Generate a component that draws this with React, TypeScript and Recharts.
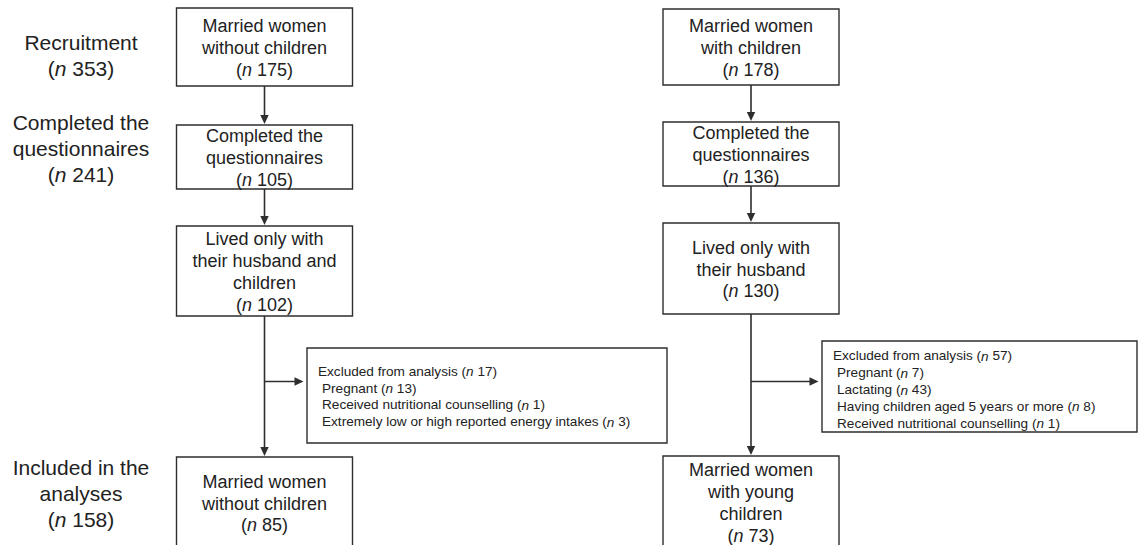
import React from 'react';
import { ComposedChart, XAxis, YAxis, ReferenceArea, ReferenceLine, Scatter } from 'recharts';

// flow steps
const stages = ['Recruitment', 'Completed the\nquestionnaires', 'Included in the\nanalyses'];
const stageCounts = [353, 241, 158];

const withoutChildrenSteps = [
  'Married women\nwithout children',
  'Completed the\nquestionnaires',
  'Lived only with\ntheir husband and\nchildren',
  'Married women\nwithout children',
];
const withoutChildrenCounts = [175, 105, 102, 85];

const withChildrenSteps = [
  'Married women\nwith children',
  'Completed the\nquestionnaires',
  'Lived only with\ntheir husband',
  'Married women\nwith young\nchildren',
];
const withChildrenCounts = [178, 136, 130, 73];

const excludedTitle = 'Excluded from analysis';
const excludedWithoutTotal = 17;
const excludedWithoutReasons = ['Pregnant', 'Received nutritional counselling', 'Extremely low or high reported energy intakes'];
const excludedWithoutCounts = [13, 1, 3];
const excludedWithTotal = 57;
const excludedWithReasons = ['Pregnant', 'Lactating', 'Having children aged 5 years or more', 'Received nutritional counselling'];
const excludedWithCounts = [7, 43, 8, 1];

// layout (pixel space of the figure)
const W = 1140;
const H = 545;
const colCenters = [264.5, 751];
const boxHalf = 88;
const rowTops = [[8, 125, 226, 457], [9, 122, 223, 456]];
const rowBottoms = [[86, 189, 316, 548], [85, 186, 314, 548]];
const stageX = 81;
const stageY = [55, 148, 493];
const exclBoxes = [
  { x1: 307, x2: 667, y1: 348, y2: 443, textX: 318, textY: 396.5 },
  { x1: 822, x2: 1137, y1: 341, y2: 432, textX: 833, textY: 389.5 },
];
const branchY = 381.5;

const INK = '#222';
const LINE = '#2e2e2e';
const FONT = '"Liberation Sans", Arial, Helvetica, sans-serif';

const withN = (label: string, n: number) => `${label}\n(n ${n})`;

const renderLine = (line: string) => {
  const m = line.match(/^(.*)\(n (\d+)\)(.*)$/);
  if (!m) return line;
  return (
    <>
      {m[1]}(<tspan fontStyle="italic">n</tspan>
      {` ${m[2]})`}
      {m[3]}
    </>
  );
};

const TextBlock = (props: any) => {
  const { cx, cy, payload } = props;
  const lines: string[] = payload.lines;
  const lh = payload.lh;
  const anchor = payload.anchor || 'middle';
  const start = cy - ((lines.length - 1) * lh) / 2;
  return (
    <g>
      {lines.map((l, i) => (
        <text
          key={i}
          x={cx + (payload.indent && i > 0 ? payload.indent : 0)}
          y={start + i * lh}
          textAnchor={anchor}
          dominantBaseline="central"
          fontSize={payload.size}
          fontFamily={FONT}
          fill={INK}
        >
          {renderLine(l)}
        </text>
      ))}
    </g>
  );
};

const ArrowHead = (props: any) => {
  const { cx, cy, payload } = props;
  const L = 9;
  const hw = 4.2;
  const pts =
    payload.dir === 'down'
      ? `${cx - hw},${cy - L} ${cx + hw},${cy - L} ${cx},${cy}`
      : `${cx - L},${cy - hw} ${cx - L},${cy + hw} ${cx},${cy}`;
  return <polygon points={pts} fill={LINE} stroke="none" />;
};

const columns = [
  { steps: withoutChildrenSteps, counts: withoutChildrenCounts },
  { steps: withChildrenSteps, counts: withChildrenCounts },
];

const boxes: { x1: number; x2: number; y1: number; y2: number }[] = [];
const segments: { x1: number; y1: number; x2: number; y2: number }[] = [];
const arrows: { x: number; y: number; dir: string }[] = [];
const texts: any[] = [];

columns.forEach((col, c) => {
  const cx = colCenters[c];
  col.steps.forEach((s, r) => {
    const y1 = rowTops[c][r];
    const y2 = rowBottoms[c][r];
    boxes.push({ x1: cx - boxHalf, x2: cx + boxHalf, y1, y2 });
    texts.push({ x: cx, y: (y1 + y2) / 2 + 1, lines: withN(s, col.counts[r]).split('\n'), size: 18, lh: 21.7 });
    if (r > 0) {
      const top = rowBottoms[c][r - 1];
      segments.push({ x1: cx, y1: top, x2: cx, y2: y1 - 7 });
      arrows.push({ x: cx, y: y1 - 1, dir: 'down' });
    }
  });
  const e = exclBoxes[c];
  boxes.push({ x1: e.x1, x2: e.x2, y1: e.y1, y2: e.y2 });
  segments.push({ x1: cx, y1: branchY, x2: e.x1 - 10, y2: branchY });
  arrows.push({ x: e.x1 - 3.5, y: branchY, dir: 'right' });
  const total = c === 0 ? excludedWithoutTotal : excludedWithTotal;
  const reasons = c === 0 ? excludedWithoutReasons : excludedWithReasons;
  const counts = c === 0 ? excludedWithoutCounts : excludedWithCounts;
  texts.push({
    x: e.textX,
    y: e.textY,
    lines: [`${excludedTitle} (n ${total})`, ...reasons.map((r, i) => `${r} (n ${counts[i]})`)],
    size: 13.6,
    lh: 16.9,
    anchor: 'start',
    indent: 4,
  });
});

stages.forEach((s, i) => {
  texts.push({ x: stageX, y: stageY[i], lines: withN(s, stageCounts[i]).split('\n'), size: 21, lh: 26 });
});

export default function App() {
  return (
    <div style={{ width: W, height: H, background: '#fff' }}>
      <style>{'body{margin:0}'}</style>
      <ComposedChart width={W} height={H} margin={{ top: 0, right: 0, bottom: 0, left: 0 }}>
        <XAxis type="number" dataKey="x" domain={[0, W]} allowDataOverflow hide />
        <YAxis type="number" dataKey="y" domain={[0, H]} allowDataOverflow reversed hide />
        {boxes.map((b, i) => (
          <ReferenceArea
            key={`b${i}`}
            x1={b.x1}
            x2={b.x2}
            y1={b.y1}
            y2={b.y2}
            fill="none"
            fillOpacity={0}
            stroke={LINE}
            strokeWidth={1.4}
            ifOverflow="visible"
          />
        ))}
        {segments.map((s, i) => (
          <ReferenceLine
            key={`s${i}`}
            segment={[
              { x: s.x1, y: s.y1 },
              { x: s.x2, y: s.y2 },
            ]}
            stroke={LINE}
            strokeWidth={1.6}
            ifOverflow="visible"
          />
        ))}
        <Scatter data={arrows} dataKey="y" shape={ArrowHead} isAnimationActive={false} />
        <Scatter data={texts} dataKey="y" shape={TextBlock} isAnimationActive={false} />
      </ComposedChart>
    </div>
  );
}
